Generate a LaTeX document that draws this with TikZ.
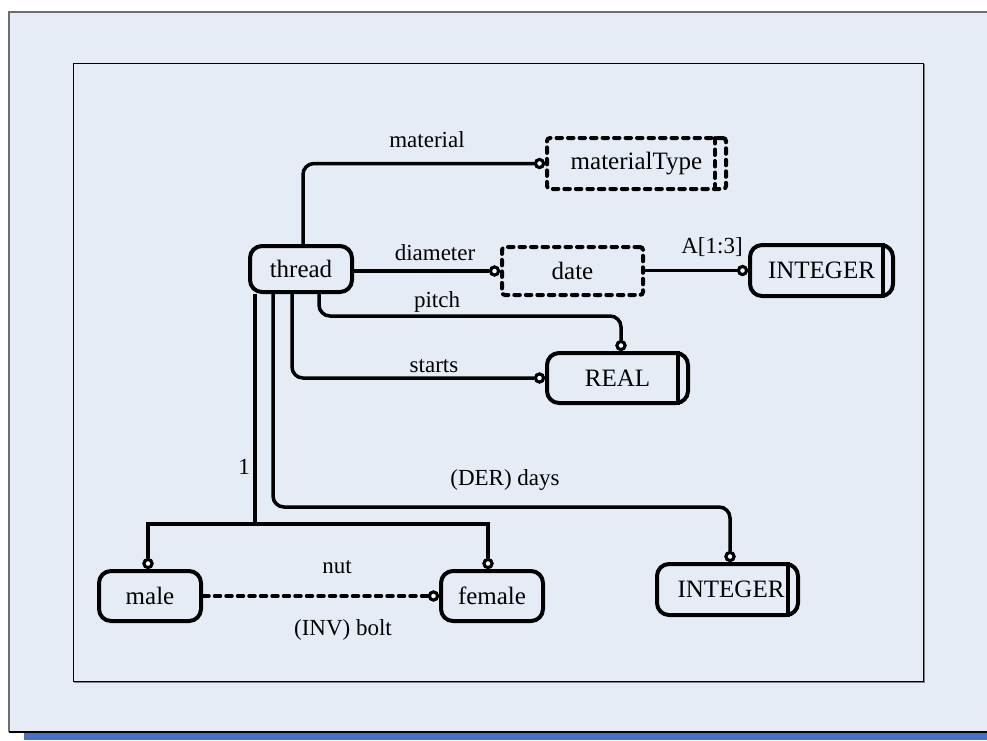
\documentclass[tikz,border=0pt]{standalone}
\usepackage{fontspec}
\setmainfont{Liberation Serif}
\usetikzlibrary{calc}
\definecolor{bgblue}{HTML}{E6ECF6}
\definecolor{barblue}{HTML}{4472C4}
\definecolor{framegray}{HTML}{6E6E6E}
\begin{document}
\begin{tikzpicture}[x=1pt,y=-1pt,
  ent/.style={draw, line width=4pt, rounded corners=12pt, inner sep=0pt, font=\fontsize{25}{30}\selectfont},
  dent/.style={draw, line width=4pt, rounded corners=3pt, dash pattern=on 5.5pt off 6pt, line cap=round, inner sep=0pt, font=\fontsize{25}{30}\selectfont},
  conn/.style={line width=3.5pt, rounded corners=11pt},
  fconn/.style={line width=3.5pt},
  dconn/.style={line width=3.5pt, dash pattern=on 6pt off 5.5pt, line cap=round},
  dotc/.style={fill=white, line width=3pt},
  dot/.style={circle, draw, fill=white, line width=3pt, minimum size=8pt, inner sep=0pt},
  lbl/.style={font=\fontsize{23}{27}\selectfont, inner sep=0pt},
  sepline/.style={line width=3.5pt},
  dsepline/.style={line width=4pt, dash pattern=on 5.5pt off 6pt, line cap=round}]
\useasboundingbox (0,0) rectangle (987,740);
% background and frames
\fill[white] (0,0) rectangle (987,740);
\fill[bgblue] (9,12) rectangle (987,732);
\fill[barblue] (24,733) rectangle (987,740);
\draw[framegray, line width=2pt] (9,732) -- (9,12) -- (987,12);
\draw[black, line width=1.2pt] (9,732) -- (987,732);
\draw[gray, line width=1.5pt] (74,682) -- (924,682) -- (924,64);
\draw[black, line width=1pt] (73,63) rectangle (923,681);

% entities
\node[ent, minimum width=102pt, minimum height=46pt] (thread) at (301,269) {thread};
\node[dent, minimum width=179pt, minimum height=51pt] (mt) at (636.5,163.5) {materialType\hspace{8pt}};
\node[dent, minimum width=141pt, minimum height=48pt] (date) at (572.5,271) {date\hspace{10pt}};
\node[ent, minimum width=143pt, minimum height=51pt] (int1) at (821.5,270.5) {INTEGER};
\node[ent, minimum width=141pt, minimum height=50pt] (real) at (617.5,378) {REAL\hspace{11pt}};
\node[ent, minimum width=141pt, minimum height=51pt] (int2) at (727.5,589.5) {\hspace{7pt}INTEGER};
\node[ent, minimum width=102pt, minimum height=50pt] (male) at (150,596) {male\hspace{4pt}};
\node[ent, minimum width=102pt, minimum height=50pt] (female) at (492,596) {female\hspace{14pt}};

% inner separator lines
\draw[dsepline] ($(mt.north east)+(-13,2)$) -- ($(mt.south east)+(-13,-2)$);
\draw[sepline] ($(int1.north east)+(-12,0)$) -- ($(int1.south east)+(-12,0)$);
\draw[sepline] ($(real.north east)+(-12,0)$) -- ($(real.south east)+(-12,0)$);
\draw[sepline] ($(int2.north east)+(-12,0)$) -- ($(int2.south east)+(-12,0)$);

% end dots
\node[dot, anchor=east] (dmt) at (mt.west) {};
\node[dot, anchor=east] (ddate) at (date.west) {};
\node[dot, anchor=east] (dint1) at (int1.west) {};
\node[dot, anchor=south] (dreal) at ($(real.north)+(3.5,0)$) {};
\node[dot, anchor=east] (dstart) at (real.west) {};
\node[dot, anchor=south] (dint2) at ($(int2.north)+(2.5,0)$) {};
\node[dot, anchor=south] (dmale) at ($(male.north)+(-2,0)$) {};
\node[dot, anchor=south] (dfem) at ($(female.north)+(-4,0)$) {};
\node[dot, anchor=east] (dnut) at (female.west) {};

% routing points
\coordinate (pmat) at (303,0);
\coordinate (ppitch) at (319,316);
\coordinate (pstart) at (292,378);
\coordinate (pday) at (273,507);
\coordinate (pfork) at (255,524);

% connectors
\draw[conn] (thread.north -| pmat) |- (dmt);
\draw[conn] (thread.east |- ddate) -- (ddate);
\draw[conn] (date.east |- dint1) -- (dint1);
\draw[conn] (thread.south -| ppitch) -- (ppitch) -| (dreal);
\draw[conn] (thread.south -| pstart) |- (dstart);
\draw[conn] (thread.south -| pday) -- (pday) -| (dint2);
\draw[fconn] (thread.south -| pfork) -- (pfork);
\draw[fconn] (dmale) |- (pfork) -| (dfem);
\draw[dconn] (male.east) -- (dnut);

% redraw dots on top
\foreach \d in {dmt,ddate,dint1,dreal,dstart,dint2,dmale,dfem,dnut}
  \draw[dotc] (\d.center) circle (4pt);

% labels
\node[lbl] (lmat) at (427,140) {material};
\node[lbl] (ldia) at (435,253) {diameter};
\node[lbl] (la13) at (712,247) {A[1:3]};
\node[lbl] (lpitch) at (437,302) {pitch};
\node[lbl] (lstarts) at (434,366) {starts};
\node[lbl] (ldays) at (505,480) {(DER) days};
\node[lbl] (lone) at (244,467) {1};
\node[lbl] (lnut) at (337,567) {nut};
\node[lbl] (lbolt) at (343,630) {(INV) bolt};
\end{tikzpicture}
\end{document}
